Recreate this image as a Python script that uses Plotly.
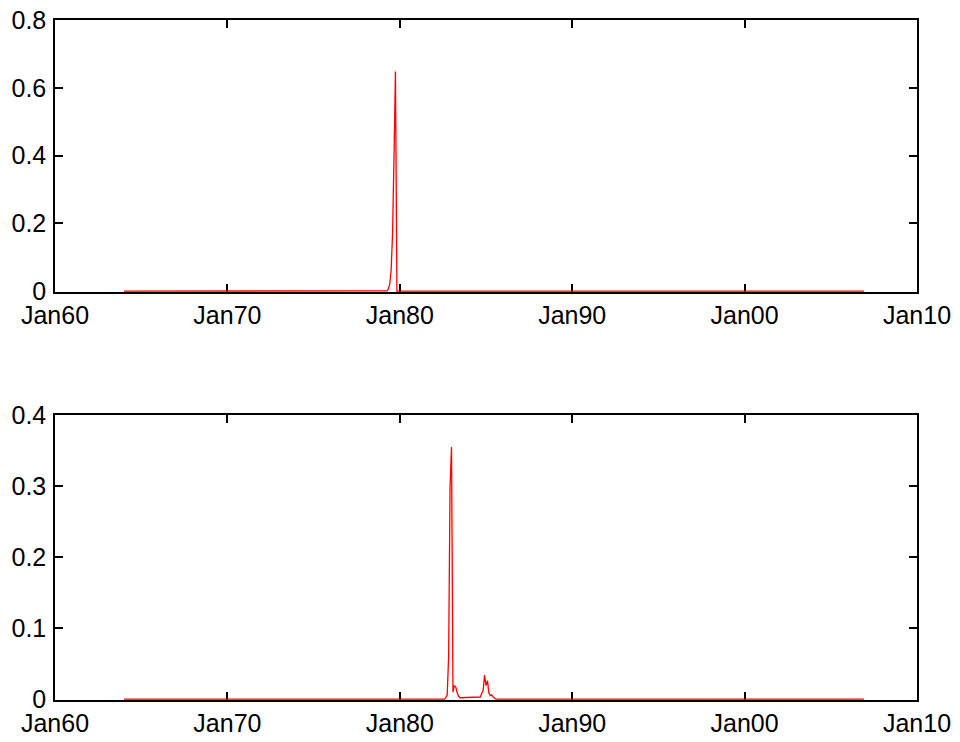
import plotly.graph_objects as go
import pandas as pd

# Monthly series span
start_month = "1964-01-01"
end_month = "2006-12-01"

# Top panel: non-zero months (all others 0)
top_months = ["1979-04-01", "1979-05-01", "1979-06-01", "1979-07-01", "1979-08-01",
              "1979-09-01", "1979-10-01", "1979-11-01"]
top_values = [0.001, 0.006, 0.02, 0.06, 0.17, 0.40, 0.648, 0.0]

# Bottom panel: non-zero months (all others 0)
bottom_months = ["1982-09-01", "1982-10-01", "1982-11-01", "1982-12-01", "1983-01-01",
                 "1983-02-01", "1983-03-01", "1983-04-01", "1983-05-01", "1983-06-01",
                 "1983-07-01", "1983-08-01", "1983-09-01", "1983-10-01", "1983-11-01",
                 "1983-12-01", "1984-01-01", "1984-02-01", "1984-03-01", "1984-04-01",
                 "1984-05-01", "1984-06-01", "1984-07-01", "1984-08-01", "1984-09-01",
                 "1984-10-01", "1984-11-01", "1984-12-01", "1985-01-01", "1985-02-01",
                 "1985-03-01", "1985-04-01", "1985-05-01", "1985-06-01", "1985-07-01"]
bottom_values = [0.002, 0.006, 0.06, 0.30, 0.355,
                 0.010, 0.019, 0.017, 0.009, 0.004,
                 0.002, 0.002, 0.002, 0.002, 0.002,
                 0.002, 0.002, 0.002, 0.002, 0.002,
                 0.002, 0.002, 0.002, 0.002, 0.003,
                 0.008, 0.012, 0.034, 0.019, 0.026,
                 0.009, 0.005, 0.006, 0.003, 0.001]

tick_vals = ["1960-01-01", "1970-01-01", "1980-01-01", "1990-01-01", "2000-01-01", "2010-01-01"]
tick_text = ["Jan60", "Jan70", "Jan80", "Jan90", "Jan00", "Jan10"]

top_yticks = [0, 0.2, 0.4, 0.6, 0.8]
top_ytext = ["0", "0.2", "0.4", "0.6", "0.8"]
bottom_yticks = [0, 0.1, 0.2, 0.3, 0.4]
bottom_ytext = ["0", "0.1", "0.2", "0.3", "0.4"]

dates = pd.date_range(start_month, end_month, freq="MS")


def build(months, values):
    s = pd.Series(0.0, index=dates)
    for m, v in zip(months, values):
        s[pd.Timestamp(m)] = v
    return s


top = build(top_months, top_values)
bottom = build(bottom_months, bottom_values)

fig = go.Figure()
fig.add_trace(go.Scatter(x=top.index, y=top.values, mode="lines",
                         line=dict(color="#ff0000", width=1.3), xaxis="x", yaxis="y"))
fig.add_trace(go.Scatter(x=bottom.index, y=bottom.values, mode="lines",
                         line=dict(color="#ff0000", width=1.3), xaxis="x2", yaxis="y2"))

font = dict(family="Liberation Sans, Arial, sans-serif", size=25, color="black")
xcommon = dict(type="date", range=["1960-01-01", "2010-01-01"], tickvals=tick_vals,
               ticktext=tick_text, showgrid=False, zeroline=False, showline=True,
               linecolor="black", linewidth=1.5, mirror="allticks", ticks="inside",
               ticklen=8, tickcolor="black", tickwidth=1.5, tickfont=font,
               automargin=False, ticklabeloverflow="allow", layer="below traces")
ycommon = dict(showgrid=False, zeroline=False, showline=True, linecolor="black",
               linewidth=1.5, mirror="allticks", ticks="inside", ticklen=8,
               tickcolor="black", tickwidth=1.5, tickfont=font, automargin=False,
               ticklabelstandoff=2, ticklabeloverflow="allow", layer="below traces")

fig.update_layout(
    width=960, height=742,
    margin=dict(l=55, r=43, t=20, b=42),
    paper_bgcolor="white", plot_bgcolor="white",
    showlegend=False,
    xaxis=dict(domain=[0, 1], anchor="y", **xcommon),
    yaxis=dict(domain=[0.6, 1.0], anchor="x", range=[-0.0025, 0.8],
               tickvals=top_yticks, ticktext=top_ytext, **ycommon),
    xaxis2=dict(domain=[0, 1], anchor="y2", **xcommon),
    yaxis2=dict(domain=[0, 0.419], anchor="x2", range=[-0.0012, 0.4],
                tickvals=bottom_yticks, ticktext=bottom_ytext, **ycommon),
)

fig.write_html("out.html", config={"displayModeBar": False},
               post_script="document.body.style.margin='0px';document.body.style.overflow='hidden';")
